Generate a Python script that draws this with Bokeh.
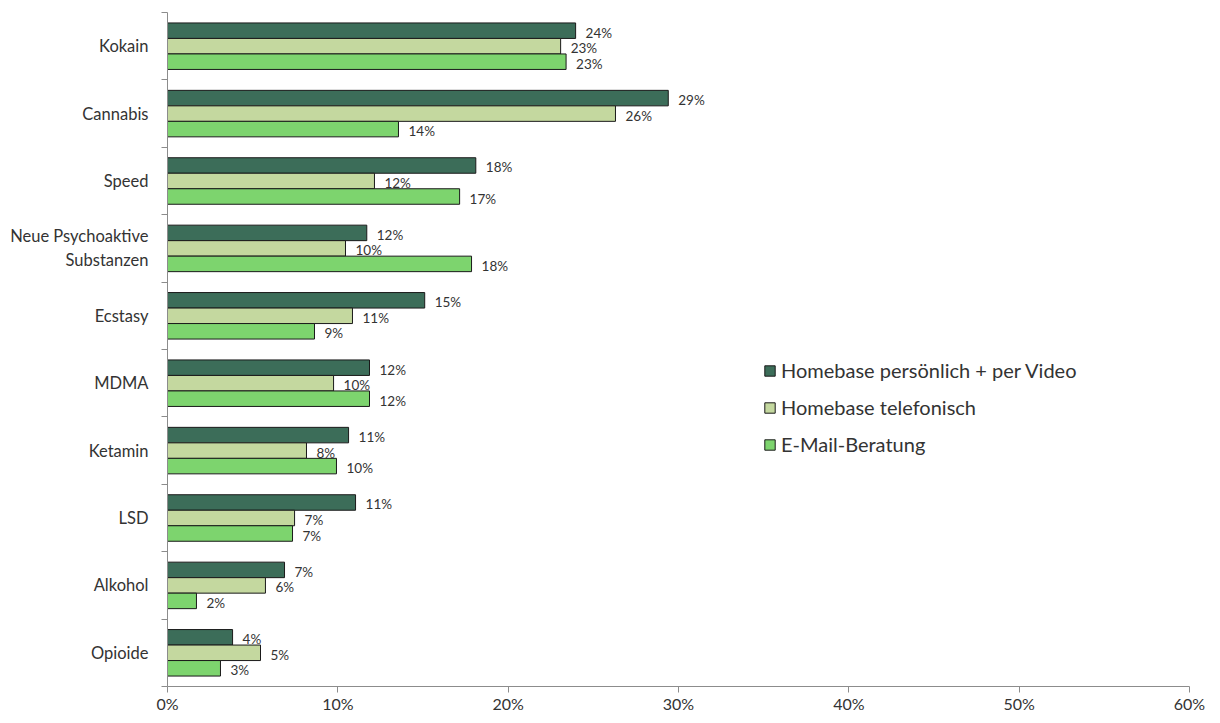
from bokeh.plotting import figure
from bokeh.models import ColumnDataSource, FixedTicker, Legend, LegendItem, Range1d
from bokeh.embed import file_html
from bokeh.resources import INLINE
from bokeh.core.properties import value

categories = ["Kokain", "Cannabis", "Speed", "Neue Psychoaktive\nSubstanzen", "Ecstasy",
              "MDMA", "Ketamin", "LSD", "Alkohol", "Opioide"]
series_names = ["Homebase persönlich + per Video", "Homebase telefonisch", "E-Mail-Beratung"]
persoenlich = [23.96, 29.4, 18.1, 11.7, 15.1, 11.86, 10.63, 11.04, 6.87, 3.82]
telefonisch = [23.08, 26.3, 12.15, 10.45, 10.86, 9.75, 8.16, 7.46, 5.75, 5.46]
email = [23.4, 13.56, 17.15, 17.85, 8.63, 11.86, 9.92, 7.34, 1.7, 3.11]
x_ticks = [0, 10, 20, 30, 40, 50, 60]
x_tick_labels = ["0%", "10%", "20%", "30%", "40%", "50%", "60%"]

colors = ["#3c6d59", "#c4d89f", "#7dd46e"]
FONT = "Lato"
n = len(categories)
centers = [n - 0.5 - i for i in range(n)]
bar_h = 0.23
offsets = [bar_h, 0.0, -bar_h]

p = figure(width=1220, height=723, output_backend="svg", toolbar_location=None,
           x_range=Range1d(0, 60), y_range=Range1d(0, n),
           min_border_left=167, min_border_right=31, min_border_top=12, min_border_bottom=37)
p.outline_line_color = None
p.xgrid.visible = False
p.ygrid.visible = False
p.background_fill_color = "white"
p.border_fill_color = "white"

renderers = []
for vals, col, off, name in zip([persoenlich, telefonisch, email], colors, offsets, series_names):
    src = ColumnDataSource(dict(
        y=[c + off for c in centers],
        right=vals,
        label=[f"{round(v)}%" for v in vals],
    ))
    r = p.hbar(y="y", left=0, right="right", height=bar_h, source=src,
               fill_color=col, line_color="#1a1a1a", line_width=1)
    renderers.append(r)
    p.text(x="right", y="y", text="label", source=src, x_offset=10, y_offset=2,
           text_baseline="middle", text_align="left", text_font=value(FONT),
           text_font_size="13.5px", text_color="#333333")

p.xaxis.ticker = FixedTicker(ticks=x_ticks)
p.xaxis.major_label_overrides = {t: l for t, l in zip(x_ticks, x_tick_labels)}
p.xaxis.axis_line_color = "#8c8c8c"
p.xaxis.major_tick_line_color = "#8c8c8c"
p.xaxis.major_tick_out = 6
p.xaxis.major_tick_in = 0
p.xaxis.minor_tick_line_color = None
p.xaxis.major_label_text_font = FONT
p.xaxis.major_label_text_font_size = "16px"
p.xaxis.major_label_text_color = "#333333"
p.xaxis.major_label_standoff = 1

p.yaxis.ticker = FixedTicker(ticks=centers, minor_ticks=list(range(0, n + 1)))
p.yaxis.major_label_overrides = {c: cat for c, cat in zip(centers, categories)}
p.yaxis.axis_line_color = "#8c8c8c"
p.yaxis.major_tick_line_color = None
p.yaxis.minor_tick_line_color = "#8c8c8c"
p.yaxis.minor_tick_out = 6
p.yaxis.minor_tick_in = 0
p.yaxis.major_label_text_font = FONT
p.yaxis.major_label_text_font_size = "16.5px"
p.yaxis.major_label_text_color = "#333333"
p.yaxis.major_label_standoff = 13

legend = Legend(items=[LegendItem(label=nm, renderers=[r]) for nm, r in zip(series_names, renderers)],
                location=(596, 230), orientation="vertical")
legend.label_text_font = FONT
legend.label_text_font_size = "20px"
legend.label_text_color = "#333333"
legend.glyph_width = 13
legend.glyph_height = 13
legend.label_height = 20
legend.spacing = 13
legend.padding = 0
legend.margin = 0
legend.label_standoff = 5
legend.border_line_color = None
legend.background_fill_alpha = 0
p.add_layout(legend)

open("out.html", "w").write(file_html(p, INLINE))
